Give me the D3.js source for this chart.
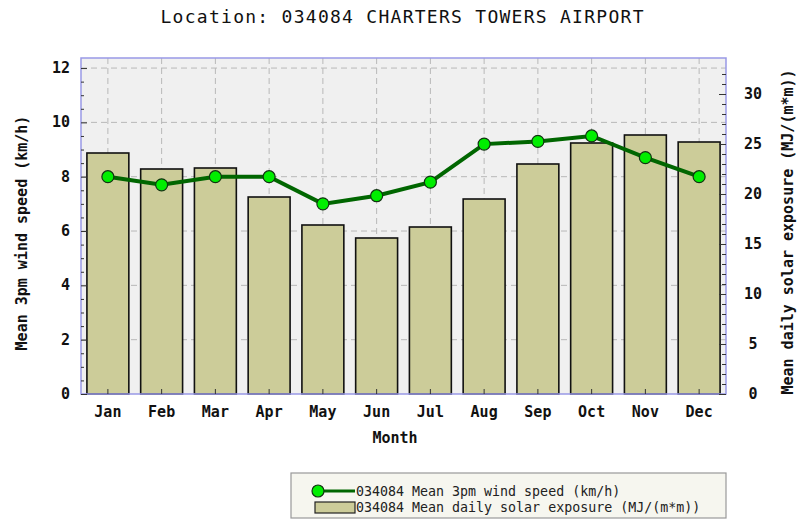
<!DOCTYPE html>
<html>
<head>
<meta charset="utf-8">
<script src="https://cdn.jsdelivr.net/npm/d3@7"></script>
<style>
  body { margin: 0; background: #fff; }
  text { font-family: "DejaVu Sans Mono", monospace; }
</style>
</head>
<body>
<div id="chart"></div>
<script>
var months = ['Jan','Feb','Mar','Apr','May','Jun','Jul','Aug','Sep','Oct','Nov','Dec'];
var windSpeed = [8.0, 7.7, 8.0, 8.0, 7.0, 7.3, 7.8, 9.2, 9.3, 9.5, 8.7, 8.0];
var solar = [24.1, 22.5, 22.6, 19.7, 16.9, 15.6, 16.7, 19.5, 23.0, 25.1, 25.9, 25.2];
var leftTicks = [0, 2, 4, 6, 8, 10, 12];
var rightTicks = [0, 5, 10, 15, 20, 25, 30];

var width = 798, height = 519;
var plot = {left: 81, right: 726, top: 58, bottom: 394};

var svg = d3.select('#chart').append('svg').attr('width', width).attr('height', height);

var x = d3.scaleBand().domain(months).range([plot.left, plot.right]).paddingInner(0.22).paddingOuter(0.11);
var yL = d3.scaleLinear().domain([0, 12.37]).range([plot.bottom, plot.top]);
var yR = d3.scaleLinear().domain([0, 33.6]).range([plot.bottom, plot.top]);
var cx = function(d) { return x(d) + x.bandwidth() / 2; };

// background
svg.append('rect')
  .attr('x', plot.left).attr('y', plot.top)
  .attr('width', plot.right - plot.left).attr('height', plot.bottom - plot.top)
  .attr('fill', '#f0f0f0');

// grid
svg.append('g').selectAll('line').data(leftTicks.filter(function(d) { return d > 0; })).enter()
  .append('line')
  .attr('x1', plot.left).attr('x2', plot.right)
  .attr('y1', function(d) { return yL(d); }).attr('y2', function(d) { return yL(d); })
  .attr('stroke', '#b8b8b8').attr('stroke-dasharray', '6,4');
svg.append('g').selectAll('line').data(months).enter()
  .append('line')
  .attr('x1', cx).attr('x2', cx)
  .attr('y1', plot.top).attr('y2', plot.bottom)
  .attr('stroke', '#b8b8b8').attr('stroke-dasharray', '6,4');

// bars
svg.append('g').selectAll('rect').data(solar).enter()
  .append('rect')
  .attr('x', function(d, i) { return x(months[i]); })
  .attr('y', function(d) { return yR(d); })
  .attr('width', x.bandwidth())
  .attr('height', function(d) { return plot.bottom - yR(d); })
  .attr('fill', '#cccc99')
  .attr('stroke', '#111').attr('stroke-width', 1.6);

// line
var line = d3.line()
  .x(function(d, i) { return cx(months[i]); })
  .y(function(d) { return yL(d); });
svg.append('path').datum(windSpeed)
  .attr('d', line)
  .attr('fill', 'none').attr('stroke', '#006600').attr('stroke-width', 4);
svg.append('g').selectAll('circle').data(windSpeed).enter()
  .append('circle')
  .attr('cx', function(d, i) { return cx(months[i]); })
  .attr('cy', function(d) { return yL(d); })
  .attr('r', 6)
  .attr('fill', '#00ee00').attr('stroke', '#113311').attr('stroke-width', 1.2);

// plot border
svg.append('rect')
  .attr('x', plot.left).attr('y', plot.top)
  .attr('width', plot.right - plot.left).attr('height', plot.bottom - plot.top)
  .attr('fill', 'none').attr('stroke', '#9999e6').attr('stroke-width', 1.5);

// left axis (ticks inward)
var leftAxis = d3.axisLeft(yL).tickValues(d3.range(0, 12.01, 0.5)).tickSize(-4).tickFormat('');
var gL = svg.append('g').attr('transform', 'translate(' + plot.left + ',0)').call(leftAxis);
gL.select('.domain').remove();
gL.selectAll('.tick line').attr('stroke', '#333')
  .attr('x2', function(d) { return d % 2 === 0 ? 6 : 3; });
svg.append('g').selectAll('text').data(leftTicks).enter()
  .append('text')
  .attr('x', plot.left - 11).attr('y', function(d) { return yL(d) + 5; })
  .attr('text-anchor', 'end')
  .attr('font-size', 15).attr('font-weight', 'bold').attr('fill', '#111')
  .text(function(d) { return d; });

// right axis (ticks inward)
var rightAxis = d3.axisRight(yR).tickValues(d3.range(0, 33, 1)).tickSize(-4).tickFormat('');
var gR = svg.append('g').attr('transform', 'translate(' + plot.right + ',0)').call(rightAxis);
gR.select('.domain').remove();
gR.selectAll('.tick line').attr('stroke', '#333')
  .attr('x2', function(d) { return d % 5 === 0 ? -7 : -4; });
svg.append('g').selectAll('text').data(rightTicks).enter()
  .append('text')
  .attr('x', plot.right + 27).attr('y', function(d) { return yR(d) + 5; })
  .attr('text-anchor', 'middle')
  .attr('font-size', 15).attr('font-weight', 'bold').attr('fill', '#111')
  .text(function(d) { return d; });

// bottom axis
var gB = svg.append('g').attr('transform', 'translate(0,' + plot.bottom + ')')
  .call(d3.axisBottom(x).tickSize(-5).tickPadding(12));
gB.select('.domain').remove();
gB.selectAll('.tick line').attr('stroke', '#333');
gB.selectAll('.tick text')
  .attr('font-family', '"DejaVu Sans Mono", monospace')
  .attr('font-size', 15).attr('font-weight', 'bold').attr('fill', '#111');

// titles
svg.append('text')
  .attr('x', 402).attr('y', 23)
  .attr('text-anchor', 'middle')
  .attr('font-size', 18).attr('fill', '#111')
  .attr('textLength', 483).attr('lengthAdjust', 'spacing')
  .text('Location: 034084 CHARTERS TOWERS AIRPORT');
svg.append('text')
  .attr('x', 395).attr('y', 443)
  .attr('text-anchor', 'middle')
  .attr('font-size', 15).attr('font-weight', 'bold').attr('fill', '#111')
  .text('Month');
svg.append('text')
  .attr('transform', 'translate(27,233) rotate(-90)')
  .attr('text-anchor', 'middle')
  .attr('font-size', 15).attr('font-weight', 'bold').attr('fill', '#111')
  .text('Mean 3pm wind speed (km/h)');
svg.append('text')
  .attr('transform', 'translate(793,232) rotate(-90)')
  .attr('text-anchor', 'middle')
  .attr('font-size', 15).attr('font-weight', 'bold').attr('fill', '#111')
  .text('Mean daily solar exposure (MJ/(m*m))');

// legend
var lg = svg.append('g');
lg.append('rect')
  .attr('x', 291).attr('y', 473).attr('width', 435).attr('height', 45)
  .attr('fill', '#f6f6ef').attr('stroke', '#999').attr('stroke-width', 1.2);
lg.append('line')
  .attr('x1', 317).attr('x2', 355).attr('y1', 491).attr('y2', 491)
  .attr('stroke', '#006600').attr('stroke-width', 3);
lg.append('circle')
  .attr('cx', 318).attr('cy', 491).attr('r', 6)
  .attr('fill', '#00ee00').attr('stroke', '#113311').attr('stroke-width', 1.2);
lg.append('rect')
  .attr('x', 315).attr('y', 502).attr('width', 40).attr('height', 11)
  .attr('fill', '#cccc99').attr('stroke', '#222').attr('stroke-width', 1.2);
lg.append('text')
  .attr('x', 356).attr('y', 496)
  .attr('font-size', 13.3).attr('fill', '#222')
  .text('034084 Mean 3pm wind speed (km/h)');
lg.append('text')
  .attr('x', 356).attr('y', 512)
  .attr('font-size', 13.3).attr('fill', '#222')
  .text('034084 Mean daily solar exposure (MJ/(m*m))');
</script>
</body>
</html>
